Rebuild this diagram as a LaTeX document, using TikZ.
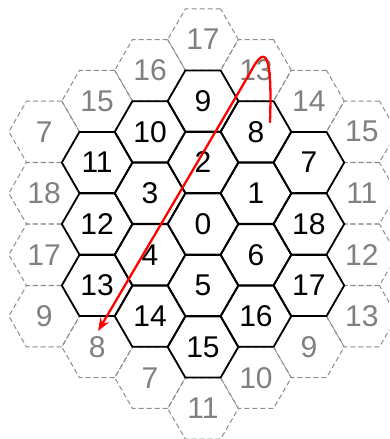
\documentclass[tikz,border=0pt]{standalone}
\usepackage{fontspec}
\setsansfont{Liberation Sans}
\usepackage{tikz}
\usetikzlibrary{shapes.geometric, arrows.meta, positioning}
\definecolor{trailred}{HTML}{FF0000}

\begin{document}
\begin{tikzpicture}[
            x=1pt, y=-1pt,
            cell/.style={regular polygon, regular polygon sides=6, minimum size=70.6pt, inner sep=0pt, draw=black, line width=1.8pt, font=\sffamily\fontsize{30}{32}\selectfont},
            ghost/.style={cell, draw=black!45, line width=1pt, dash pattern=on 5pt off 3pt, text=black!50},
            trail/.style={-{Stealth[length=13pt, width=10pt]}, line width=2.3pt, color=trailred}
        ]
        \useasboundingbox (0,0) rectangle (389,439);
        \clip (0,0) rectangle (389,439);
        \foreach \q/\k/\lbl [count=\i] in {0/-3/17, 0/3/11, 1/-2.5/13, 1/2.5/10, 2/-2/14, 2/2/9,
                3/-1.5/15, 3/-0.5/11, 3/0.5/12, 3/1.5/13, -1/-2.5/16, -1/2.5/7, -2/-2/15, -2/2/8,
                -3/-1.5/7, -3/-0.5/18, -3/0.5/17, -3/1.5/9}
            \node [ghost] (g\i) at (203+52.95*\q, 224+61.5*\k) {\lbl};
        \foreach \q/\k/\lbl in {0/-2/9, 0/-1/2, 0/0/0, 0/1/5, 0/2/15, 1/-1.5/8, 1/-0.5/1, 1/0.5/6, 1/1.5/16,
                2/-1/7, 2/0/18, 2/1/17, -1/-1.5/10, -1/-0.5/3, -1/0.5/4, -1/1.5/14, -2/-1/11, -2/0/12, -2/1/13}
            \node [cell] (c\lbl) at (203+52.95*\q, 224+61.5*\k) {\lbl};
        \coordinate (tail) at ([shift={(14,-9)}]c8.center);
        \coordinate (bend) at (250,73);
        \coordinate (head) at ([shift={(1,-16)}]g14.center);
        \draw [trail] (tail) .. controls (273,40) and (262,50) .. (bend) -- (head);
    \end{tikzpicture}
\end{document}
